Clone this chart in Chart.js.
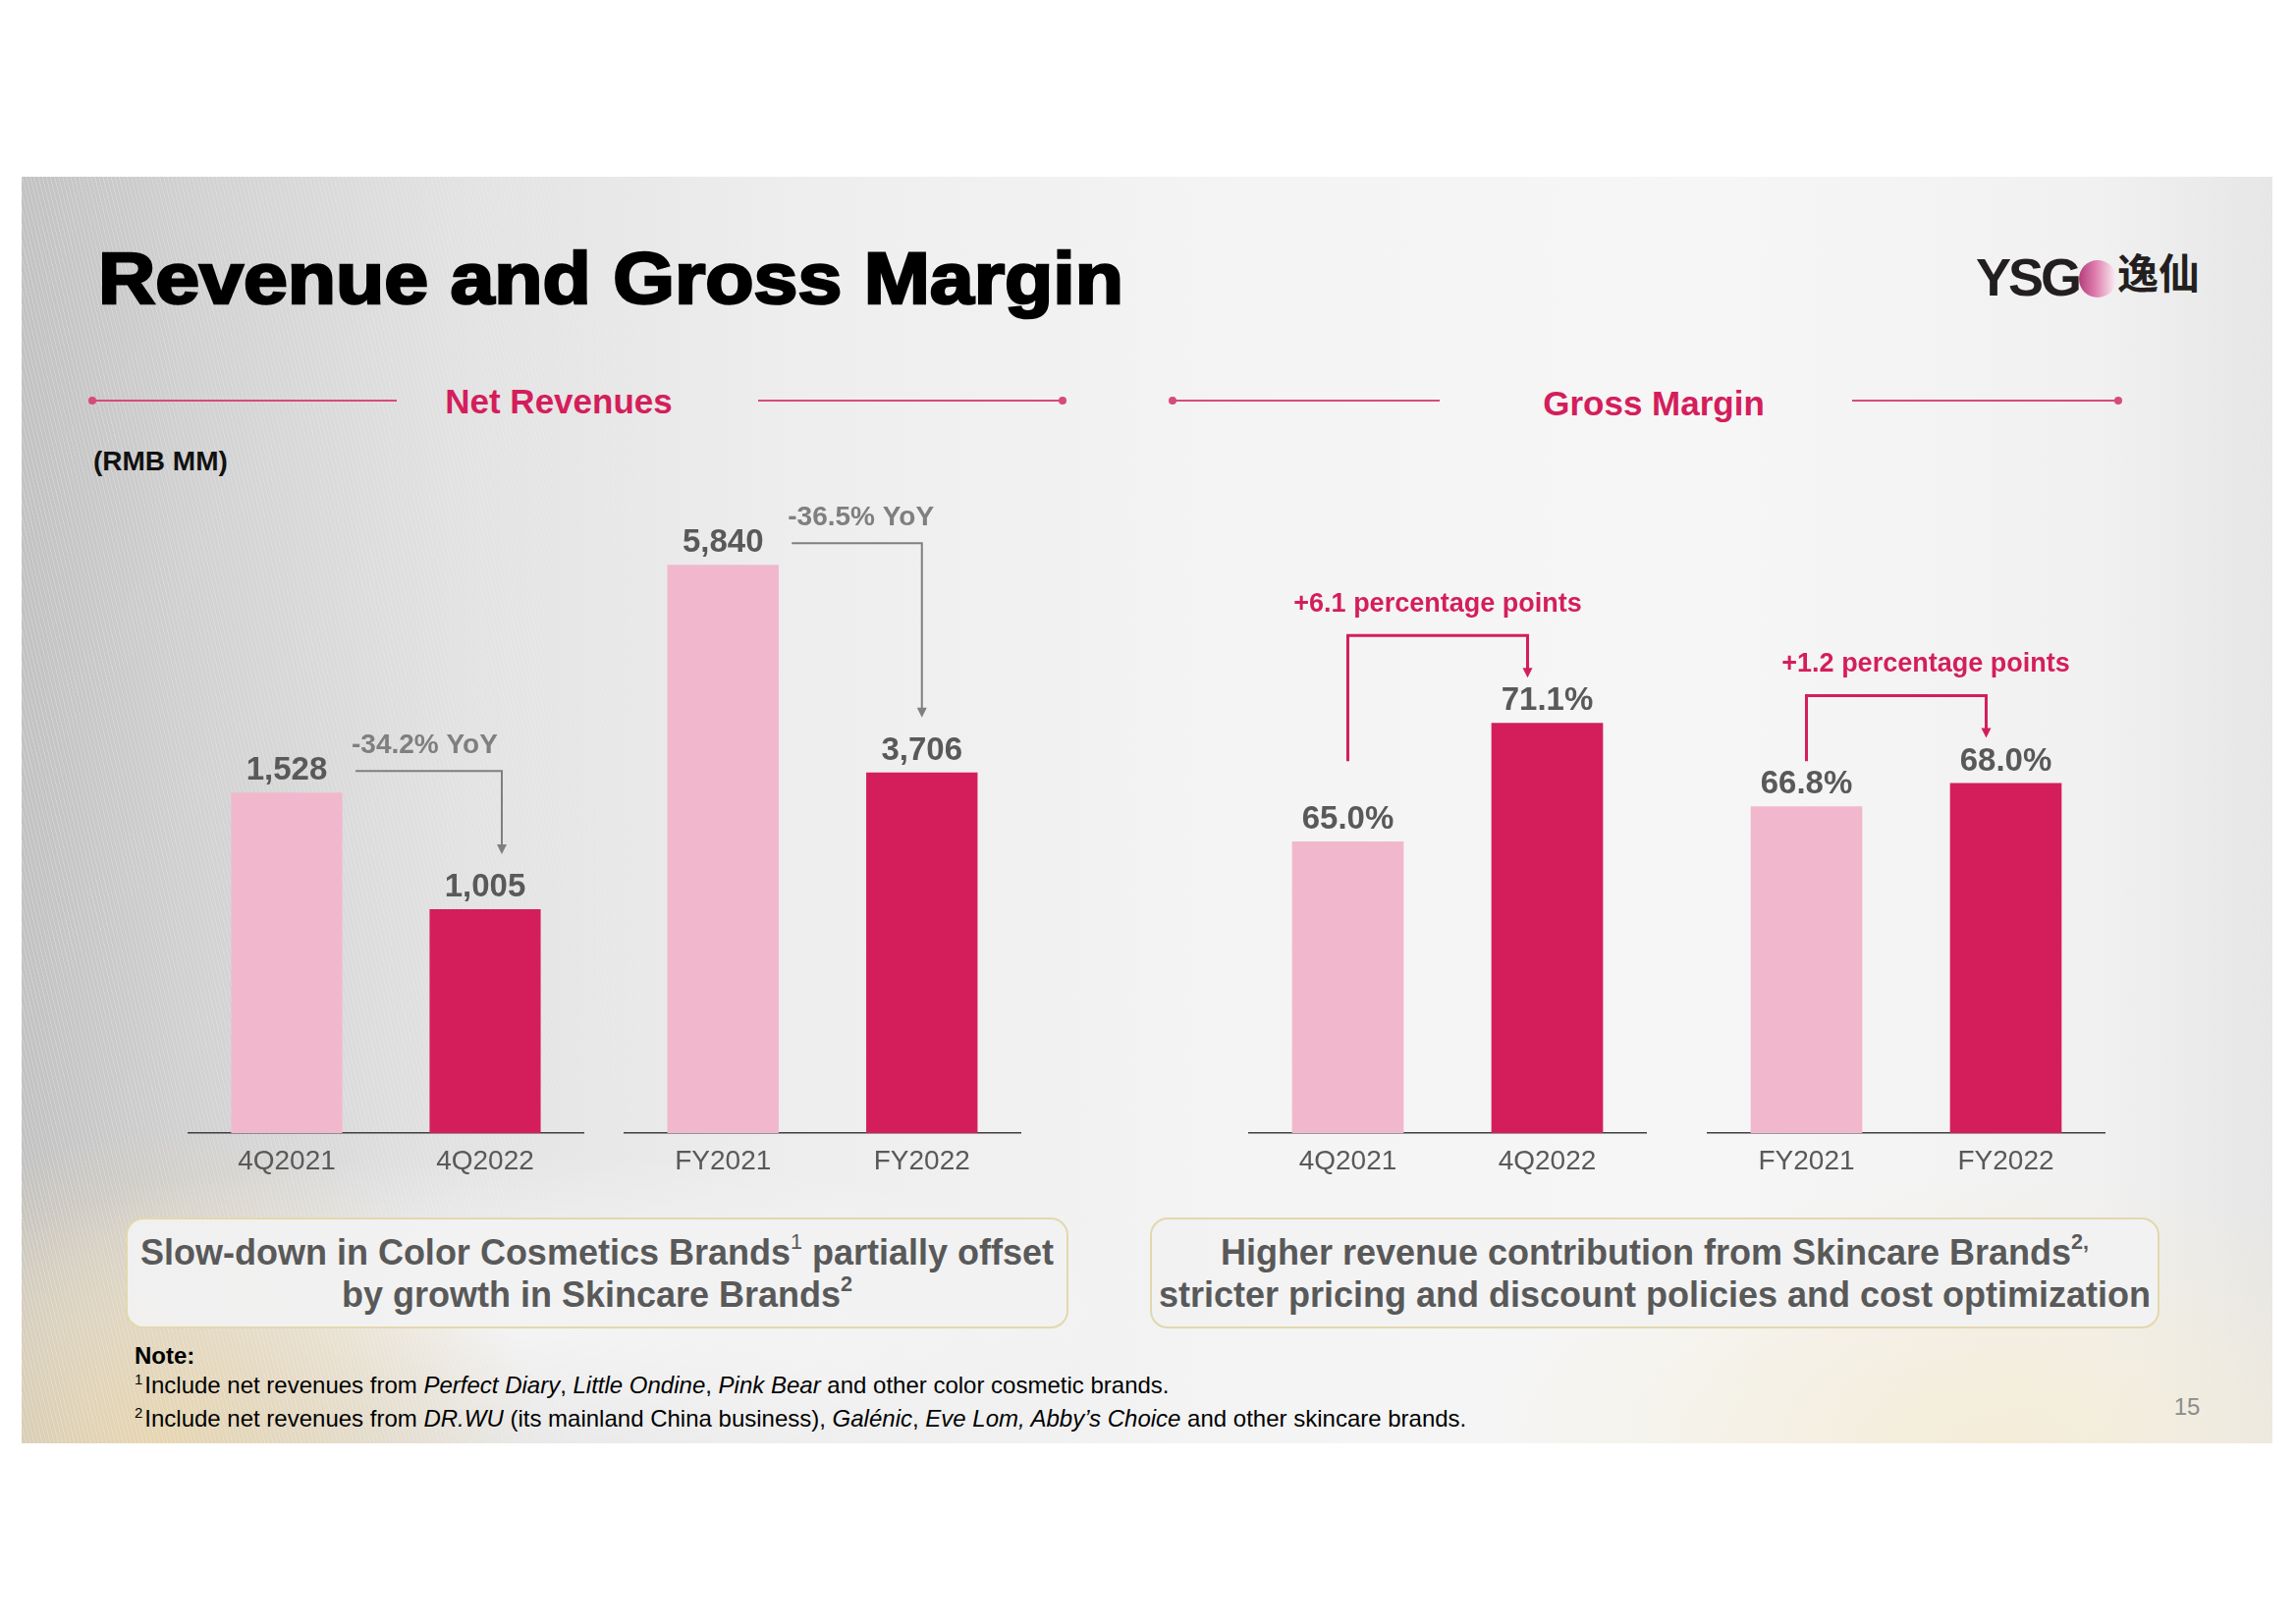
<!DOCTYPE html>
<html>
<head>
<meta charset="utf-8">
<script src="https://cdn.jsdelivr.net/npm/chart.js@4.4.0/dist/chart.umd.min.js"></script>
<style>
  body { margin:0; width:2338px; height:1653px; background:#fff; position:relative; overflow:hidden;
         font-family:"Liberation Sans", Arial, sans-serif; }
  .abs { position:absolute; }
  #slide { left:22px; top:180px; width:2292px; height:1290px; overflow:hidden;
    background:
      radial-gradient(ellipse 520px 420px at 6% 100%, rgba(232,214,176,0.95), rgba(232,214,176,0) 75%),
      radial-gradient(ellipse 700px 360px at 88% 100%, rgba(244,236,214,0.95), rgba(244,236,214,0) 75%),
      radial-gradient(ellipse 900px 240px at 22% 90%, rgba(255,255,255,0.6), rgba(255,255,255,0) 70%),
      linear-gradient(90deg, #c2c2c2 0%, #d2d2d2 8%, #e3e3e3 20%, #eeeeee 35%, #f4f4f4 55%, #f6f6f6 75%, #f1f1f1 92%, #e6e6e6 100%);
  }
  #texture { left:0; top:0; width:100%; height:100%;
    background: repeating-linear-gradient(76deg, rgba(255,255,255,0.22) 0 1px, rgba(255,255,255,0) 1px 4px);
    -webkit-mask-image: linear-gradient(90deg, #000 0%, rgba(0,0,0,0.6) 20%, rgba(0,0,0,0) 42%, rgba(0,0,0,0) 85%, rgba(0,0,0,0.4) 100%);
    mask-image: linear-gradient(90deg, #000 0%, rgba(0,0,0,0.6) 20%, rgba(0,0,0,0) 42%, rgba(0,0,0,0) 85%, rgba(0,0,0,0.4) 100%);
  }
  #title { left:100px; top:240px; font-size:74px; line-height:1.2; font-weight:bold; color:#000;
           white-space:nowrap; transform-origin:0 50%; -webkit-text-stroke:2.6px #000; }
  .logo-ysg { left:2012px; top:250px; font-size:54px; line-height:1.2; font-weight:bold; color:#231f20; letter-spacing:-3px; }
  .logo-dot { left:2117px; top:265px; width:38px; height:38px; border-radius:50%;
              background:linear-gradient(90deg, #b3407c 0%, #df7fae 45%, rgba(250,240,245,0.95) 100%); }
  .logo-cn { left:2156px; top:251px; font-size:42px; line-height:1.2; font-weight:bold; color:#231f20;
             font-family:"Noto Sans CJK SC", sans-serif; }
  .sec { font-size:35px; line-height:1.2; font-weight:bold; color:#d41e5c; text-align:center; width:400px; }
  .rule { height:2px; background:#d54b7c; }
  .dot { width:8px; height:8px; border-radius:50%; background:#d54b7c; }
  .unit { left:95px; top:453px; font-size:28px; line-height:1.2; font-weight:bold; color:#111; }
  canvas { position:absolute; }
  .box { box-sizing:border-box; height:113px; top:1240px; border:2px solid #e2d8ad; border-radius:18px;
         background:rgba(242,242,243,0.92); display:flex; flex-direction:column; justify-content:center;
         align-items:center; font-size:36px; line-height:43px; font-weight:bold; color:#595959; white-space:nowrap; }
  .box sup { font-size:0.6em; line-height:0; vertical-align:0; position:relative; top:-0.72em; }
  .note { left:137px; font-size:24px; line-height:1.2; color:#000; white-space:nowrap; }
  .note sup { font-size:0.62em; line-height:0; vertical-align:0; position:relative; top:-0.6em; margin-right:2px; }
  .pgno { left:2200px; top:1419px; width:54px; text-align:center; font-size:24px; line-height:1.2; color:#8c8c8c; }
</style>
</head>
<body>
<div id="slide" class="abs"><div id="texture" class="abs"></div></div>

<div id="title" class="abs">Revenue and Gross Margin</div>
<div class="abs logo-ysg">YSG</div>
<div class="abs logo-dot"></div>
<div class="abs logo-cn">逸仙</div>

<!-- section headers -->
<div class="abs rule" style="left:94px;top:407px;width:310px"></div>
<div class="abs dot" style="left:90px;top:404px"></div>
<div class="abs sec" style="left:369px;top:388px">Net Revenues</div>
<div class="abs rule" style="left:772px;top:407px;width:310px"></div>
<div class="abs dot" style="left:1078px;top:404px"></div>

<div class="abs rule" style="left:1194px;top:407px;width:272px"></div>
<div class="abs dot" style="left:1190px;top:404px"></div>
<div class="abs sec" style="left:1484px;top:390px">Gross Margin</div>
<div class="abs rule" style="left:1886px;top:407px;width:271px"></div>
<div class="abs dot" style="left:2153px;top:404px"></div>

<div class="abs unit">(RMB MM)</div>

<canvas id="revQ" width="404" height="720" style="left:191px;top:480px"></canvas>
<canvas id="revFY" width="405" height="720" style="left:635px;top:480px"></canvas>
<canvas id="gmQ" width="406" height="640" style="left:1271px;top:560px"></canvas>
<canvas id="gmFY" width="406" height="640" style="left:1738px;top:560px"></canvas>

<div class="abs box" style="left:128px;width:960px">
  <div>Slow-down in Color Cosmetics Brands<sup style="font-weight:normal">1</sup> partially offset</div>
  <div>by growth in Skincare Brands<sup>2</sup></div>
</div>
<div class="abs box" style="left:1171px;width:1028px">
  <div>Higher revenue contribution from Skincare Brands<sup>2,</sup></div>
  <div>stricter pricing and discount policies and cost optimization</div>
</div>

<div class="abs note" style="top:1367px;font-weight:bold">Note:</div>
<div class="abs note" style="top:1397px"><sup>1</sup>Include net revenues from <i>Perfect Diary</i>, <i>Little Ondine</i>, <i>Pink Bear</i> and other color cosmetic brands.</div>
<div class="abs note" style="top:1431px"><sup>2</sup>Include net revenues from <i>DR.WU</i> (its mainland China business), <i>Galénic</i>, <i>Eve Lom, Abby’s Choice</i> and other skincare brands.</div>
<div class="abs pgno">15</div>

<script>
// ── Data ─────────────────────────────────────────────────────────────────────
const revQLabels  = ['4Q2021', '4Q2022'];
const revQValues  = [1528, 1005];
const revFYLabels = ['FY2021', 'FY2022'];
const revFYValues = [5840, 3706];
const gmQLabels   = ['4Q2021', '4Q2022'];
const gmQValues   = [65.0, 71.1];
const gmFYLabels  = ['FY2021', 'FY2022'];
const gmFYValues  = [66.8, 68.0];
const revChange   = ['-34.2% YoY', '-36.5% YoY'];
const gmChange    = ['+6.1 percentage points', '+1.2 percentage points'];

const FONT    = '"Liberation Sans", Arial, sans-serif';
const PINK    = '#f1b8cd';
const CRIMSON = '#d41e5c';

// fit the title to the reference width
const t = document.getElementById('title');
t.style.transform = `scaleX(${1044 / t.getBoundingClientRect().width})`;

// ── Plugins ──────────────────────────────────────────────────────────────────
function valueLabels(fmt) {
  return {
    id: 'valueLabels',
    afterDatasetsDraw(chart) {
      const { ctx } = chart;
      const vals = chart.data.datasets[0].data;
      ctx.save();
      ctx.font = `bold 33px ${FONT}`;
      ctx.fillStyle = '#595959';
      ctx.textAlign = 'center';
      ctx.textBaseline = 'middle';
      chart.getDatasetMeta(0).data.forEach((bar, i) => ctx.fillText(fmt(vals[i]), bar.x, bar.y - 22));
      ctx.restore();
    },
  };
}

function arrowHead(ctx, x, y) {
  ctx.beginPath();
  ctx.moveTo(x - 5, y - 10);
  ctx.lineTo(x + 5, y - 10);
  ctx.lineTo(x, y);
  ctx.closePath();
  ctx.fill();
}

// YoY elbow arrow (grey) from bar 1 label to bar 2
function yoyArrow(text, dx) {
  return {
    id: 'yoyArrow',
    afterDatasetsDraw(chart) {
      const { ctx } = chart;
      const [b1, b2] = chart.getDatasetMeta(0).data;
      const x0 = b1.x + 70, y0 = b1.y - 22;
      const x1 = b2.x + dx, yEnd = b2.y - 22 - 34;
      ctx.save();
      ctx.strokeStyle = ctx.fillStyle = '#7f7f7f';
      ctx.lineWidth = 2;
      ctx.beginPath();
      ctx.moveTo(x0, y0); ctx.lineTo(x1, y0); ctx.lineTo(x1, yEnd - 9);
      ctx.stroke();
      arrowHead(ctx, x1, yEnd);
      ctx.font = `bold 28px ${FONT}`;
      ctx.textAlign = 'left';
      ctx.textBaseline = 'middle';
      ctx.fillText(text, x0 - 4, y0 - 26);
      ctx.restore();
    },
  };
}

// percentage point bracket (crimson)
function ppBracket(text, textDx) {
  return {
    id: 'ppBracket',
    afterDatasetsDraw(chart) {
      const { ctx } = chart;
      const [b1, b2] = chart.getDatasetMeta(0).data;
      const l1 = b1.y - 22, l2 = b2.y - 22;
      const x0 = b1.x, x1 = b2.x - 20;
      const top = l2 - 67, y0 = Math.min(l1 - 24, l2 + 61), yEnd = l2 - 24;
      ctx.save();
      ctx.strokeStyle = ctx.fillStyle = CRIMSON;
      ctx.lineWidth = 3;
      ctx.beginPath();
      ctx.moveTo(x0, y0); ctx.lineTo(x0, top); ctx.lineTo(x1, top); ctx.lineTo(x1, yEnd - 9);
      ctx.stroke();
      arrowHead(ctx, x1, yEnd);
      ctx.font = `bold 27px ${FONT}`;
      ctx.textAlign = 'center';
      ctx.textBaseline = 'middle';
      ctx.fillText(text, (x0 + x1) / 2 + textDx, top - 32);
      ctx.restore();
    },
  };
}

// ── Charts ───────────────────────────────────────────────────────────────────
function barChart(id, labels, values, yMin, yMax, extraPlugins) {
  return new Chart(document.getElementById(id), {
    type: 'bar',
    data: {
      labels,
      datasets: [{
        data: values,
        backgroundColor: [PINK, CRIMSON],
        barPercentage: 0.56,
        categoryPercentage: 1,
      }],
    },
    options: {
      responsive: false,
      animation: false,
      layout: { padding: 0 },
      plugins: { legend: { display: false }, tooltip: { enabled: false } },
      scales: {
        x: {
          grid: { display: false, drawTicks: false },
          border: { display: true, color: '#3f3f3f', width: 1.5 },
          ticks: { color: '#595959', font: { family: FONT, size: 28 }, padding: 12 },
          afterFit: s => { s.height = 46; },
        },
        y: { display: false, min: yMin, max: yMax },
      },
    },
    plugins: extraPlugins,
  });
}

const fmtRev = v => v.toLocaleString('en-US');
const fmtPct = v => v.toFixed(1) + '%';

barChart('revQ',  revQLabels,  revQValues,  0, 2970, [valueLabels(fmtRev), yoyArrow(revChange[0], 17)]);
barChart('revFY', revFYLabels, revFYValues, 0, 6800, [valueLabels(fmtRev), yoyArrow(revChange[1], 0)]);
barChart('gmQ',   gmQLabels,   gmQValues,  50, 80,   [valueLabels(fmtPct), ppBracket(gmChange[0], 0)]);
barChart('gmFY',  gmFYLabels,  gmFYValues, 50, 80,   [valueLabels(fmtPct), ppBracket(gmChange[1], 30)]);
</script>
</body>
</html>
